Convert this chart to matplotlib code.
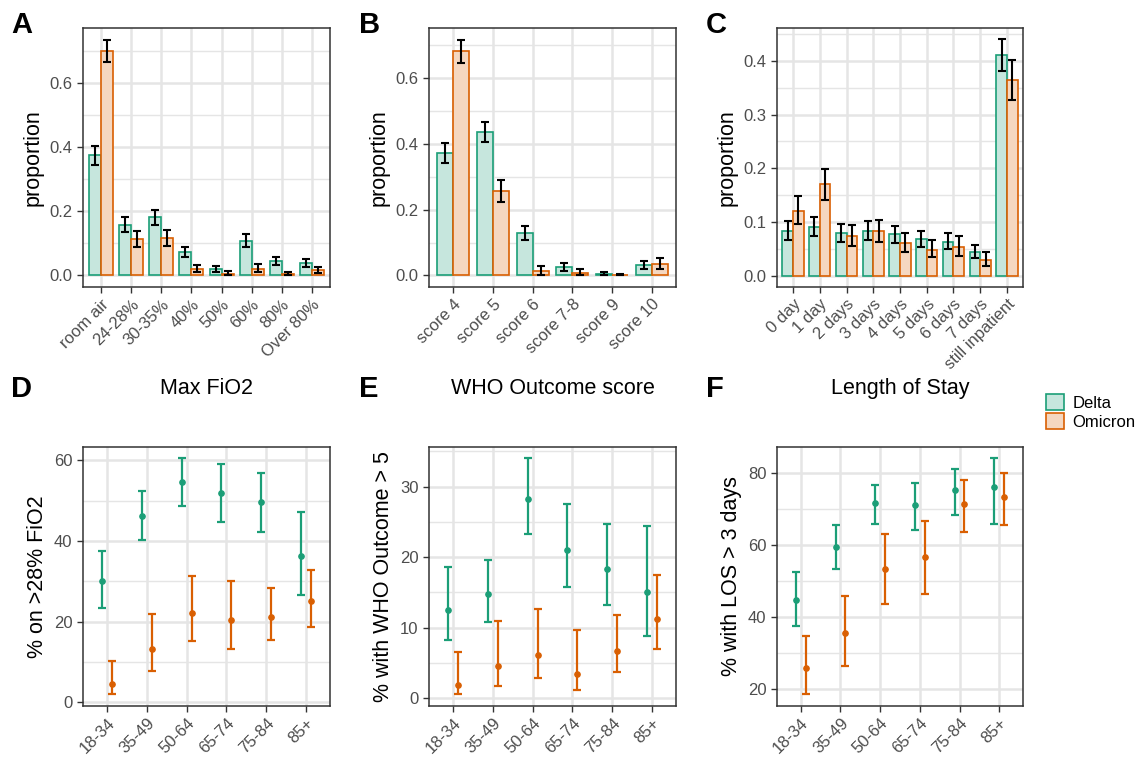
import matplotlib
matplotlib.use("Agg")
import matplotlib.pyplot as plt
from matplotlib.patches import Patch
from matplotlib.ticker import MultipleLocator

plt.rcParams["font.family"] = ["Liberation Sans", "DejaVu Sans"]

DELTA = "#1b9e77"
OMICRON = "#d95f02"
DELTA_FILL = "#c6e6dd"
OMICRON_FILL = "#f5d7c0"
GRID = "#e5e5e5"
TICK_TXT = "#4d4d4d"

# panel A: max FiO2 distribution
fio2_cats = ["room air", "24-28%", "30-35%", "40%", "50%", "60%", "80%", "Over 80%"]
fio2_delta = [0.376, 0.158, 0.182, 0.072, 0.020, 0.108, 0.046, 0.039]
fio2_delta_lo = [0.346, 0.136, 0.158, 0.057, 0.012, 0.090, 0.033, 0.027]
fio2_delta_hi = [0.403, 0.182, 0.206, 0.088, 0.029, 0.128, 0.057, 0.053]
fio2_omi = [0.702, 0.114, 0.116, 0.019, 0.006, 0.021, 0.005, 0.017]
fio2_omi_lo = [0.667, 0.090, 0.092, 0.010, 0.000, 0.012, 0.000, 0.008]
fio2_omi_hi = [0.736, 0.138, 0.141, 0.032, 0.013, 0.035, 0.012, 0.028]

# panel B: WHO outcome score distribution
who_cats = ["score 4", "score 5", "score 6", "score 7-8", "score 9", "score 10"]
who_delta = [0.372, 0.437, 0.130, 0.026, 0.006, 0.032]
who_delta_lo = [0.342, 0.406, 0.109, 0.015, 0.001, 0.020]
who_delta_hi = [0.403, 0.466, 0.150, 0.037, 0.011, 0.044]
who_omi = [0.683, 0.258, 0.014, 0.009, 0.002, 0.035]
who_omi_lo = [0.646, 0.224, 0.002, 0.001, 0.000, 0.020]
who_omi_hi = [0.718, 0.292, 0.028, 0.019, 0.006, 0.052]

# panel C: length of stay distribution
los_cats = ["0 day", "1 day", "2 days", "3 days", "4 days", "5 days", "6 days",
            "7 days", "still inpatient"]
los_delta = [0.084, 0.091, 0.079, 0.083, 0.077, 0.068, 0.063, 0.044, 0.411]
los_delta_lo = [0.067, 0.074, 0.063, 0.067, 0.060, 0.054, 0.050, 0.033, 0.381]
los_delta_hi = [0.101, 0.109, 0.096, 0.101, 0.093, 0.084, 0.079, 0.058, 0.440]
los_omi = [0.121, 0.170, 0.073, 0.083, 0.060, 0.048, 0.053, 0.029, 0.364]
los_omi_lo = [0.096, 0.141, 0.055, 0.063, 0.045, 0.034, 0.037, 0.019, 0.327]
los_omi_hi = [0.148, 0.199, 0.095, 0.104, 0.080, 0.066, 0.073, 0.045, 0.401]

# panels D-F: by age group
age_groups = ["18-34", "35-49", "50-64", "65-74", "75-84", "85+"]

fio_age_delta = [30.0, 46.2, 54.6, 51.8, 49.6, 36.2]
fio_age_delta_lo = [23.4, 40.2, 48.6, 44.6, 42.2, 26.6]
fio_age_delta_hi = [37.5, 52.4, 60.5, 59.0, 56.8, 47.1]
fio_age_omi = [4.6, 13.3, 22.2, 20.4, 21.1, 25.1]
fio_age_omi_lo = [2.1, 7.8, 15.3, 13.2, 15.5, 18.7]
fio_age_omi_hi = [10.2, 21.9, 31.3, 30.0, 28.3, 32.8]

who_age_delta = [12.5, 14.7, 28.3, 21.0, 18.3, 15.0]
who_age_delta_lo = [8.3, 10.8, 23.3, 15.8, 13.2, 8.8]
who_age_delta_hi = [18.6, 19.6, 34.0, 27.5, 24.7, 24.4]
who_age_omi = [1.9, 4.5, 6.1, 3.5, 6.7, 11.2]
who_age_omi_lo = [0.6, 1.7, 2.9, 1.2, 3.7, 7.0]
who_age_omi_hi = [6.6, 11.0, 12.6, 9.6, 11.8, 17.5]

los_age_delta = [44.9, 59.6, 71.6, 71.2, 75.3, 76.2]
los_age_delta_lo = [37.5, 53.3, 65.9, 64.2, 68.3, 65.8]
los_age_delta_hi = [52.5, 65.6, 76.7, 77.2, 81.1, 84.2]
los_age_omi = [25.9, 35.5, 53.5, 56.8, 71.4, 73.3]
los_age_omi_lo = [18.6, 26.4, 43.7, 46.4, 63.7, 65.6]
los_age_omi_hi = [34.7, 45.9, 63.2, 66.7, 78.1, 80.0]

W, H = 1148, 757


def px_axes(fig, x0, y0, x1, y1):
    # pixel box (top-left origin) -> figure axes
    return fig.add_axes([x0 / W, 1 - y1 / H, (x1 - x0) / W, (y1 - y0) / H])


def style_axes(ax, cats, major, minor, ylabel, ylim):
    n = len(cats)
    ax.set_xlim(-0.6, n - 1 + 0.6)
    ax.set_ylim(*ylim)
    ax.set_xticks(range(n))
    ax.set_xticklabels(cats, rotation=45, ha="right", rotation_mode="anchor",
                       fontsize=12, color=TICK_TXT)
    ax.yaxis.set_major_locator(MultipleLocator(major))
    ax.yaxis.set_minor_locator(MultipleLocator(minor))
    ax.tick_params(axis="y", which="major", labelsize=12, labelcolor=TICK_TXT,
                   length=4, width=1, color="#333333")
    ax.tick_params(axis="y", which="minor", length=0)
    ax.tick_params(axis="x", length=4, width=1, color="#333333", pad=3)
    ax.grid(True, which="major", color=GRID, lw=1.8, zorder=0)
    ax.grid(True, which="minor", axis="y", color=GRID, lw=1.0, zorder=0)
    ax.set_axisbelow(True)
    for s in ax.spines.values():
        s.set_color("#333333")
        s.set_linewidth(1.1)
    ax.set_ylabel(ylabel, fontsize=15.5, labelpad=4)


def bar_panel(ax, cats, d, d_lo, d_hi, o, o_lo, o_hi, major, minor, ylim):
    xs = range(len(cats))
    xd = [x - 0.2 for x in xs]
    xo = [x + 0.2 for x in xs]
    ax.bar(xd, d, width=0.4, color=DELTA_FILL, edgecolor=DELTA, lw=1.2, zorder=2)
    ax.bar(xo, o, width=0.4, color=OMICRON_FILL, edgecolor=OMICRON, lw=1.2, zorder=2)
    for x, v, lo, hi in [(xd, d, d_lo, d_hi), (xo, o, o_lo, o_hi)]:
        err = [[a - b for a, b in zip(v, lo)], [b - a for a, b in zip(v, hi)]]
        ax.errorbar(x, v, yerr=err, fmt="none", ecolor="black", elinewidth=1.5,
                    capsize=2.8, capthick=1.5, zorder=3)
    style_axes(ax, cats, major, minor, "proportion", ylim)


def point_panel(ax, cats, d, d_lo, d_hi, o, o_lo, o_hi, major, minor, ylabel, ylim):
    xs = range(len(cats))
    for off, v, lo, hi, c in [(-0.125, d, d_lo, d_hi, DELTA), (0.125, o, o_lo, o_hi, OMICRON)]:
        x = [i + off for i in xs]
        err = [[a - b for a, b in zip(v, lo)], [b - a for a, b in zip(v, hi)]]
        ax.errorbar(x, v, yerr=err, fmt="o", color=c, ecolor=c, ms=3.8,
                    elinewidth=1.6, capsize=2.8, capthick=1.6, zorder=3)
    style_axes(ax, cats, major, minor, ylabel, ylim)


fig = plt.figure(figsize=(W / 100, H / 100), dpi=100)

axA = px_axes(fig, 83, 28, 330, 287)
bar_panel(axA, fio2_cats, fio2_delta, fio2_delta_lo, fio2_delta_hi,
          fio2_omi, fio2_omi_lo, fio2_omi_hi, 0.2, 0.1, (-0.036, 0.773))
axB = px_axes(fig, 429, 28, 676, 287)
bar_panel(axB, who_cats, who_delta, who_delta_lo, who_delta_hi,
          who_omi, who_omi_lo, who_omi_hi, 0.2, 0.1, (-0.035, 0.753))
axC = px_axes(fig, 777, 28, 1023, 287)
bar_panel(axC, los_cats, los_delta, los_delta_lo, los_delta_hi,
          los_omi, los_omi_lo, los_omi_hi, 0.1, 0.05, (-0.021, 0.461))

axD = px_axes(fig, 83, 447, 330, 706)
point_panel(axD, age_groups, fio_age_delta, fio_age_delta_lo, fio_age_delta_hi,
            fio_age_omi, fio_age_omi_lo, fio_age_omi_hi, 20, 10,
            "% on >28% FiO2", (-0.9, 63.3))
axE = px_axes(fig, 429, 447, 676, 706)
point_panel(axE, age_groups, who_age_delta, who_age_delta_lo, who_age_delta_hi,
            who_age_omi, who_age_omi_lo, who_age_omi_hi, 10, 5,
            "% with WHO Outcome > 5", (-1.1, 35.6))
axF = px_axes(fig, 777, 447, 1023, 706)
point_panel(axF, age_groups, los_age_delta, los_age_delta_lo, los_age_delta_hi,
            los_age_omi, los_age_omi_lo, los_age_omi_hi, 20, 10,
            "% with LOS > 3 days", (15.3, 87.3))

# titles of the lower row sit on the same line as the panel letters
for title, x in [("Max FiO2", 206.5), ("WHO Outcome score", 552.5), ("Length of Stay", 900)]:
    fig.text(x / W, 1 - 394 / H, title, fontsize=15.5, ha="center", va="baseline")

# panel letters
for letter, x, y in [("A", 11, 33), ("B", 359, 33), ("C", 706, 33),
                     ("D", 11, 397), ("E", 359, 397), ("F", 706, 397)]:
    fig.text(x / W, 1 - y / H, letter, fontsize=21, fontweight="bold",
             ha="left", va="baseline")

handles = [Patch(facecolor=DELTA_FILL, edgecolor=DELTA, lw=1.2, label="Delta"),
           Patch(facecolor=OMICRON_FILL, edgecolor=OMICRON, lw=1.2, label="Omicron")]
fig.legend(handles=handles, loc="upper left", bbox_to_anchor=(1046 / W, 1 - 394 / H),
           frameon=False, fontsize=12, handlelength=1.1, handleheight=1.1,
           handletextpad=0.5, labelspacing=0.15, borderaxespad=0, borderpad=0)

fig.savefig("out.png", dpi=100)
